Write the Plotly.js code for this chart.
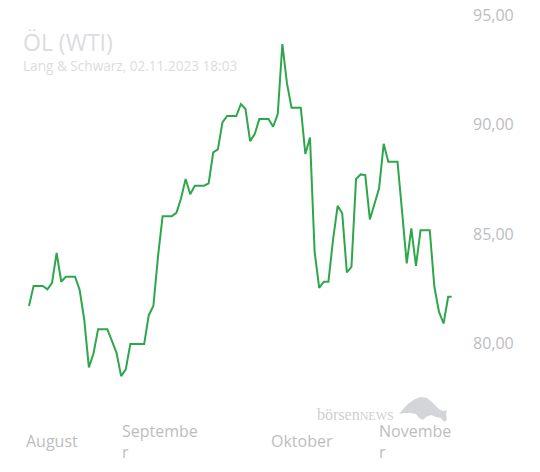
<!DOCTYPE html>
<html>
<head>
<meta charset="utf-8">
<script src="https://cdn.plot.ly/plotly-3.0.1.min.js"></script>
<style>html,body{margin:0;padding:0;background:#fff;}#chart{width:540px;height:472px;}</style>
</head>
<body>
<div id="chart"></div>
<script>
// ---- data ----
const dates = [
 '2023-08-03','2023-08-04','2023-08-05','2023-08-06','2023-08-07','2023-08-08','2023-08-09','2023-08-10',
 '2023-08-11','2023-08-12','2023-08-13','2023-08-14','2023-08-15','2023-08-16','2023-08-17','2023-08-18',
 '2023-08-19','2023-08-20','2023-08-21','2023-08-22','2023-08-23','2023-08-24','2023-08-25','2023-08-26',
 '2023-08-27','2023-08-28','2023-08-29','2023-08-30','2023-08-31','2023-09-01','2023-09-02','2023-09-03',
 '2023-09-04','2023-09-05','2023-09-06','2023-09-07','2023-09-08','2023-09-09','2023-09-10','2023-09-11',
 '2023-09-12','2023-09-13','2023-09-14','2023-09-15','2023-09-16','2023-09-17','2023-09-18','2023-09-19',
 '2023-09-20','2023-09-21','2023-09-22','2023-09-23','2023-09-24','2023-09-25','2023-09-26','2023-09-27',
 '2023-09-28','2023-09-29','2023-09-30','2023-10-01','2023-10-02','2023-10-03','2023-10-04','2023-10-05',
 '2023-10-06','2023-10-07','2023-10-08','2023-10-09','2023-10-10','2023-10-11','2023-10-12','2023-10-13',
 '2023-10-14','2023-10-15','2023-10-16','2023-10-17','2023-10-18','2023-10-19','2023-10-20','2023-10-21',
 '2023-10-22','2023-10-23','2023-10-24','2023-10-25','2023-10-26','2023-10-27','2023-10-28','2023-10-29',
 '2023-10-30','2023-10-31','2023-11-01','2023-11-02','2023-11-02 18:03'
];
const prices = [
 81.71,82.63,82.63,82.63,82.47,82.77,84.14,82.82,
 83.05,83.05,83.05,82.44,81.07,78.90,79.54,80.65,
 80.65,80.65,80.11,79.57,78.50,78.81,79.97,79.97,
 79.97,79.97,81.29,81.71,83.96,85.82,85.82,85.82,
 85.97,86.63,87.52,86.82,87.21,87.21,87.21,87.32,
 88.74,88.87,90.11,90.40,90.40,90.40,90.95,90.72,
 89.25,89.57,90.26,90.26,90.26,89.91,90.49,93.69,
 91.89,90.78,90.78,90.78,88.66,89.42,84.20,82.54,
 82.82,82.82,84.73,86.29,85.95,83.25,83.50,87.52,
 87.73,87.70,85.67,86.37,87.09,89.13,88.31,88.31,
 88.31,86.00,83.66,85.26,83.54,85.18,85.18,85.18,
 82.59,81.45,80.91,82.13,82.13
];
const monthTickDates = ['2023-08-07 22:00','2023-08-31 09:00','2023-10-01 04:00','2023-10-25 19:00'];
const monthTickLabels = ['August','Septembe<br>r','Oktober','Novembe<br>r'];
const yTickValues = [80,85,90,95];
const titleText = 'ÖL (WTI)';
const subtitleText = 'Lang & Schwarz, 02.11.2023 18:03';

// ---- layout helpers ----
const W = 540, H = 472;
const M = {l:20, r:78, t:10, b:72};
const plotW = W - M.l - M.r, plotH = H - M.t - M.b;
function px2paperX(px){ return (px - M.l) / plotW; }
function px2paperY(py){ return (H - M.b - py) / plotH; }

const trace = {
  type:'scatter', mode:'lines', x:dates, y:prices,
  line:{color:'#2ea64b', width:2}, hoverinfo:'skip'
};

const annotations = [
  {xref:'paper', yref:'paper', x:px2paperX(21), y:px2paperY(42), xanchor:'left', yanchor:'middle',
   text:titleText, showarrow:false, font:{family:'Open Sans', size:23, color:'#dcdcdf'}},
  {xref:'paper', yref:'paper', x:px2paperX(21), y:px2paperY(65), xanchor:'left', yanchor:'middle',
   text:subtitleText, showarrow:false, font:{family:'Open Sans', size:13.6, color:'#dcdcdf'}},
  {xref:'paper', yref:'paper', x:px2paperX(315), y:px2paperY(414), xanchor:'left', yanchor:'middle',
   text:'börsen<span style="font-size:12px">NEWS</span>', showarrow:false,
   font:{family:'Liberation Serif', size:16, color:'#cdcfd2'}}
];
monthTickDates.forEach((d,i)=>{
  annotations.push({xref:'x', yref:'paper', x:d, y:px2paperY(441), xanchor:'center', yanchor:'middle',
    text:monthTickLabels[i], showarrow:false, align:'left',
    font:{family:'Open Sans', size:16, color:'#bdbdc1'}});
});

// decorative bull logo of the watermark
const bull = [[399,414],[404,408],[409,403],[415,399],[421,397],[427,398],[432,402],[436,406],[440,410],[444,411],[447,410],[446,414],[447,420],[444,422],[441,418],[436,417],[431,415],[426,417],[423,420],[419,418],[416,414],[410,413],[404,413]];
const bullPath = 'M' + bull.map(p=>px2paperX(p[0]).toFixed(4)+','+px2paperY(p[1]).toFixed(4)).join(' L') + ' Z';

const layout = {
  width:W, height:H, margin:M,
  paper_bgcolor:'#fff', plot_bgcolor:'#fff',
  separators:',.',
  showlegend:false,
  xaxis:{type:'date', range:['2023-08-01 01:06','2023-11-05'], showgrid:false, zeroline:false,
         showline:false, ticks:'', showticklabels:false, fixedrange:true},
  yaxis:{side:'right', range:[77.41,95.25], tickvals:yTickValues, tickformat:'.2f',
         showgrid:false, zeroline:false, showline:false, ticks:'', ticklabelstandoff:10,
         tickfont:{family:'Open Sans', size:16, color:'#bdbdc1'}, fixedrange:true},
  annotations:annotations,
  shapes:[{type:'path', xref:'paper', yref:'paper', path:bullPath, fillcolor:'#d3d5d8', line:{width:0}}]
};

Plotly.newPlot('chart', [trace], layout, {staticPlot:true, displayModeBar:false});
</script>
</body>
</html>
